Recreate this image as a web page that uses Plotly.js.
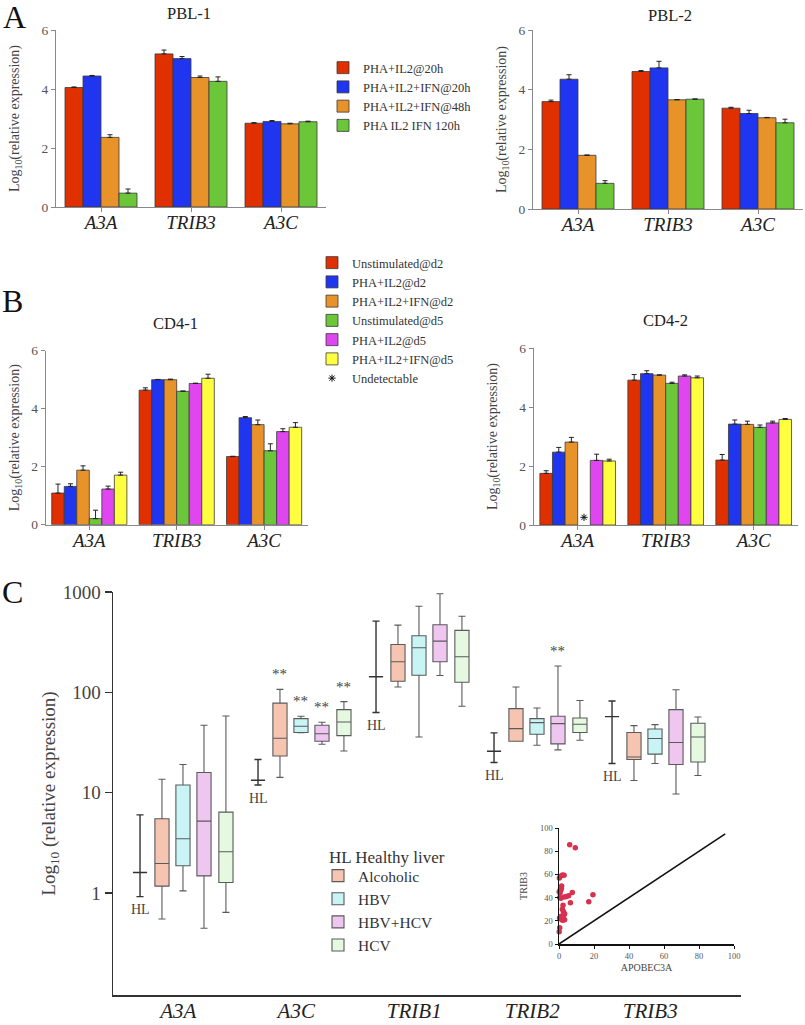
<!DOCTYPE html>
<html>
<head>
<meta charset="utf-8">
<script src="https://cdn.plot.ly/plotly-3.0.1.min.js"></script>
<style>html,body{margin:0;padding:0;background:#fff;}#chart{width:805px;height:1025px;}</style>
</head>
<body>
<div id="chart"></div>
<script>
// ---------- DATA ----------
const genesAB = ['A3A', 'TRIB3', 'A3C'];

const seriesA = ['PHA+IL2@20h', 'PHA+IL2+IFN@20h', 'PHA+IL2+IFN@48h', 'PHA IL2 IFN 120h'];
const pbl1 = [[4.05, 5.19, 2.84], [4.44, 5.03, 2.90], [2.36, 4.39, 2.82], [0.47, 4.26, 2.89]];
const pbl1Err = [[0.02, 0.13, 0.02], [0.02, 0.07, 0.03], [0.09, 0.05, 0.02], [0.14, 0.15, 0.02]];
const pbl2 = [[3.60, 4.61, 3.38], [4.35, 4.73, 3.20], [1.80, 3.66, 3.06], [0.86, 3.68, 2.89]];
const pbl2Err = [[0.05, 0.03, 0.03], [0.15, 0.22, 0.11], [0.01, 0.01, 0.01], [0.09, 0.01, 0.12]];

const seriesB = ['Unstimulated@d2', 'PHA+IL2@d2', 'PHA+IL2+IFN@d2', 'Unstimulated@d5', 'PHA+IL2@d5', 'PHA+IL2+IFN@d5'];
const cd41 = [[1.09, 4.64, 2.35], [1.32, 5.00, 3.69], [1.88, 5.00, 3.45], [0.21, 4.60, 2.55], [1.23, 4.87, 3.21], [1.71, 5.05, 3.36]];
const cd41Err = [[0.31, 0.08, 0.01], [0.09, 0.01, 0.04], [0.15, 0.02, 0.16], [0.29, 0.01, 0.24], [0.10, 0.01, 0.10], [0.10, 0.14, 0.16]];
const cd42 = [[1.75, 4.91, 2.20], [2.47, 5.13, 3.42], [2.81, 5.08, 3.41], [null, 4.80, 3.31], [2.19, 5.05, 3.46], [2.17, 4.99, 3.58]];
const cd42Err = [[0.09, 0.19, 0.19], [0.16, 0.10, 0.14], [0.16, 0.01, 0.11], [null, 0.04, 0.08], [0.21, 0.04, 0.06], [0.06, 0.06, 0.03]];
const undetectableGene = 0;      // A3A
const undetectableSeries = 3;    // Unstimulated@d5
const undetectableY = 0.26;

const genesC = ['A3A', 'A3C', 'TRIB1', 'TRIB2', 'TRIB3'];
const groupsC = ['HL', 'Alcoholic', 'HBV', 'HBV+HCV', 'HCV'];
const hlLow = [0.92, 11.9, 63, 20, 19.5];
const hlMed = [1.6, 13.3, 143, 25.9, 57.3];
const hlHigh = [6.0, 21.4, 512, 39.4, 82];
const alcLow = [0.55, 14.2, 113, 32.5, 13.2];
const alcQ1 = [1.17, 23.2, 129, 32.5, 21.4];
const alcMed = [1.97, 34.8, 202, 43.5, 22.7];
const alcQ3 = [5.5, 78, 300, 68.8, 39.7];
const alcHigh = [13.6, 107, 468, 113, 46.6];
const hbvLow = [1.05, 39.5, 35.9, 29.7, 19.5];
const hbvQ1 = [1.87, 39.7, 148, 38.2, 24.2];
const hbvMed = [3.47, 45.9, 278, 49.9, 34.6];
const hbvQ3 = [11.9, 54.7, 366, 54.7, 43.1];
const hbvHigh = [19.1, 57.7, 722, 69.8, 47.7];
const bcLow = [0.445, 30.4, 147, 26.7, 9.7];
const bcQ1 = [1.48, 32.5, 202, 30.6, 19.1];
const bcMed = [5.2, 38.7, 324, 48.8, 31.6];
const bcQ3 = [15.9, 47, 472, 57.7, 67.3];
const bcHigh = [47, 50.3, 960, 183, 106];
const hcvLow = [0.64, 26, 72.6, 33.3, 14.8];
const hcvQ1 = [1.27, 37, 126, 39.7, 20.2];
const hcvMed = [2.58, 50.6, 226, 48, 35.9];
const hcvQ3 = [6.4, 67.3, 414, 55.5, 49.2];
const hcvHigh = [58, 80.8, 574, 83, 56.8];
// significance marks: [gene index, group index (1..4)]
const significant = [[1, 1], [1, 2], [1, 3], [1, 4], [3, 3]];

const apobec3a = [6.1, 9.3, 0.8, 2.0, 2.9, 0.2, 1.5, 1.3, 1.1, 0.1, 0.6, 7.6, 0.4, 1.1, 3.0, 4.2, 5.5, 19.4, 17.0, 6.5, 2.3, 1.9, 2.5, 3.2, 2.7, 1.1, 0.3, 1.5, 3.2, 1.9, 0.4, 0.1, 2.2, 0.8];
const trib3 = [85.5, 83.0, 58.5, 59.5, 59.2, 57.0, 50.0, 48.0, 46.5, 45.0, 44.0, 44.5, 40.0, 39.5, 40.5, 41.0, 41.5, 42.5, 36.5, 35.5, 33.5, 30.0, 28.0, 26.0, 24.5, 24.0, 22.5, 21.0, 21.0, 23.0, 14.0, 10.5, 20.5, 47.0];
const refLineX = [0, 95];
const refLineY = [0, 95];

// ---------- STYLE ----------
const W = 805, H = 1025;
const FONT = 'Liberation Serif, Times New Roman, serif';
const colA = ['#e03000', '#1f35f0', '#e8922a', '#6cc63a'];
const colB = ['#e03000', '#1f35f0', '#e8922a', '#6cc63a', '#e046f0', '#ffff40'];
const colC = ['rgba(0,0,0,0)', '#f5c5b2', '#c8f4f6', '#eec6f0', '#e5f8e0'];
const offC = [-0.364, -0.178, 0, 0.178, 0.364];
const gwA = 0.8, gwB = 0.86;

function dx(a, b) { return [a / W, b / W]; }
function dy(top, bottom) { return [1 - bottom / H, 1 - top / H]; }

function barTraces(vals, errs, names, colors, xa, ya, gw, legendName, showLeg) {
  const n = vals.length, w = gw / n;
  return vals.map((v, k) => ({
    type: 'bar', x: genesAB.map((g, i) => i), y: v, name: names[k],
    width: w, offset: -gw / 2 + k * w,
    marker: { color: colors[k], line: { color: '#3a3a3a', width: 0.8 } },
    error_y: { type: 'data', symmetric: false, array: errs[k], arrayminus: errs[k].map(() => 0),
      color: '#222', thickness: 1, width: 2.5 },
    xaxis: xa, yaxis: ya, legend: legendName, legendgroup: legendName + k, showlegend: showLeg,
    hoverinfo: 'y+name'
  }));
}

const traces = [];
traces.push(...barTraces(pbl1, pbl1Err, seriesA, colA, 'x', 'y', gwA, 'legend', true));
traces.push(...barTraces(pbl2, pbl2Err, seriesA, colA, 'x2', 'y2', gwA, 'legend', false));
traces.push(...barTraces(cd41, cd41Err, seriesB, colB, 'x3', 'y3', gwB, 'legend2', true));
traces.push(...barTraces(cd42, cd42Err, seriesB, colB, 'x4', 'y4', gwB, 'legend2', false));
{
  const w = gwB / seriesB.length;
  traces.push({
    type: 'scatter', mode: 'markers', name: 'Undetectable',
    x: [undetectableGene - gwB / 2 + (undetectableSeries + 0.5) * w], y: [undetectableY],
    marker: { symbol: 'asterisk-open', size: 6, color: '#111', line: { color: '#111', width: 1 } },
    xaxis: 'x4', yaxis: 'y4', legend: 'legend2', cliponaxis: false
  });
}

// Panel C boxes
const boxStats = [
  [hlLow, hlMed, hlMed, hlMed, hlHigh],
  [alcLow, alcQ1, alcMed, alcQ3, alcHigh],
  [hbvLow, hbvQ1, hbvMed, hbvQ3, hbvHigh],
  [bcLow, bcQ1, bcMed, bcQ3, bcHigh],
  [hcvLow, hcvQ1, hcvMed, hcvQ3, hcvHigh]
];
boxStats.forEach((s, k) => {
  traces.push({
    type: 'box', name: groupsC[k],
    x: genesC.map((g, i) => i + offC[k]),
    lowerfence: s[0], q1: s[1], median: s[2], q3: s[3], upperfence: s[4],
    boxpoints: false, width: 0.12, whiskerwidth: 0.5,
    fillcolor: colC[k], line: { color: k === 0 ? '#333' : '#5a5a5a', width: k === 0 ? 1.4 : 1.1 },
    xaxis: 'x5', yaxis: 'y5', legend: 'legend3', showlegend: k > 0, hoverinfo: 'all'
  });
});

// Inset scatter
traces.push({
  type: 'scatter', mode: 'lines', x: refLineX, y: refLineY, line: { color: '#111', width: 1.6 },
  xaxis: 'x6', yaxis: 'y6', showlegend: false, hoverinfo: 'skip'
});
traces.push({
  type: 'scatter', mode: 'markers', x: apobec3a, y: trib3, name: 'samples',
  marker: { color: '#d9304f', size: 5.5 }, cliponaxis: false,
  xaxis: 'x6', yaxis: 'y6', showlegend: false
});

// ---------- LAYOUT ----------
const ytitle = 'Log<sub>10</sub>(relative expression)';
function barX(dom, anchor) {
  return {
    domain: dom, anchor: anchor, range: [-0.5, 2.5], tickvals: [0, 1, 2], ticktext: genesAB,
    showline: true, linecolor: '#888', linewidth: 1, ticks: 'outside', ticklen: 4, tickcolor: '#888',
    ticklabelstandoff: -6,
    tickfont: { family: FONT, size: 19, color: '#222', style: 'italic' }, showgrid: false, zeroline: false, fixedrange: true
  };
}
function barY(dom, anchor, standoff) {
  return {
    domain: dom, anchor: anchor, range: [0, 6], tickvals: [0, 2, 4, 6], showline: true, linecolor: '#888', linewidth: 1,
    ticks: 'outside', ticklen: 4, tickcolor: '#888', tickfont: { family: FONT, size: 13.5, color: '#555' },
    showgrid: false, zeroline: false, fixedrange: true,
    title: { text: ytitle, font: { family: FONT, size: 14, color: '#444' }, standoff: standoff }
  };
}

const annotations = [
  { text: 'A', x: 14 / W, y: 1 - 17 / H },
  { text: 'B', x: 12 / W, y: 1 - 301 / H },
  { text: 'C', x: 12 / W, y: 1 - 592 / H }
].map(a => ({ xref: 'paper', yref: 'paper', x: a.x, y: a.y, text: a.text, showarrow: false,
  xanchor: 'center', yanchor: 'middle', font: { family: FONT, size: 32, color: '#111' } }));

[['PBL-1', 189, 13], ['PBL-2', 670, 15], ['CD4-1', 175, 323], ['CD4-2', 665, 320]].forEach(t => {
  annotations.push({ xref: 'paper', yref: 'paper', x: t[1] / W, y: 1 - t[2] / H, text: t[0], showarrow: false,
    xanchor: 'center', yanchor: 'middle', font: { family: FONT, size: 16.5, color: '#222' } });
});

// HL labels
genesC.forEach((g, i) => {
  annotations.push({ xref: 'x5', yref: 'y5', x: i + offC[0], y: Math.log10(hlLow[i]) - 0.13, text: 'HL',
    showarrow: false, xanchor: 'center', yanchor: 'middle', font: { family: FONT, size: 14, color: '#444' } });
});
// significance stars
significant.forEach(([gi, k]) => {
  annotations.push({ xref: 'x5', yref: 'y5', x: gi + offC[k], y: Math.log10(boxStats[k][4][gi]) + 0.15, text: '**',
    showarrow: false, xanchor: 'center', yanchor: 'middle', font: { family: FONT, size: 15, color: '#444' } });
});
annotations.push({ xref: 'paper', yref: 'paper', x: 327 / W, y: 1 - 857 / H, text: 'HL Healthy liver',
  showarrow: false, xanchor: 'left', yanchor: 'middle', font: { family: FONT, size: 17, color: '#333' } });

const layout = {
  width: W, height: H, margin: { l: 0, r: 0, t: 0, b: 0 }, paper_bgcolor: '#fff', plot_bgcolor: 'rgba(0,0,0,0)',
  barmode: 'overlay', boxmode: 'overlay', showlegend: true, font: { family: FONT },
  xaxis: barX(dx(56, 326), 'y'), yaxis: barY(dy(30, 207), 'x', 18),
  xaxis2: barX(dx(533, 803), 'y2'), yaxis2: barY(dy(30, 209), 'x2', 8),
  xaxis3: barX(dx(45.6, 307.8), 'y3'), yaxis3: barY(dy(350.7, 524.7), 'x3', 8),
  xaxis4: barX(dx(533.7, 797.7), 'y4'), yaxis4: barY(dy(348, 525), 'x4', 18),
  xaxis5: {
    domain: dx(113, 741), anchor: 'y5', range: [-0.593, 4.729], tickvals: genesC.map((g, i) => i - 0.04), ticktext: genesC,
    showline: true, linecolor: '#333', linewidth: 1.5, ticks: '', showgrid: false, zeroline: false, fixedrange: true,
    tickfont: { family: FONT, size: 21, color: '#222', style: 'italic' }, ticklabelstandoff: -4
  },
  yaxis5: {
    domain: dy(592, 995), anchor: 'x5', type: 'log', range: [-1.017, 3], tickvals: [1, 10, 100, 1000], ticktext: ['1', '10', '100', '1000'],
    showline: true, linecolor: '#333', linewidth: 1.5, ticks: 'outside', ticklen: 7, tickcolor: '#333', tickwidth: 1.3,
    showgrid: false, zeroline: false, fixedrange: true, tickfont: { family: FONT, size: 19, color: '#444' },
    title: { text: 'Log<sub>10</sub> (relative expression)', font: { family: FONT, size: 19, color: '#444' }, standoff: 2 }
  },
  xaxis6: {
    domain: dx(559, 734), range: [0, 100], tickvals: [0, 20, 40, 60, 80, 100], anchor: 'y6',
    showline: true, linecolor: '#111', linewidth: 1.5, ticks: 'outside', ticklen: 3, tickcolor: '#111',
    showgrid: false, zeroline: false, fixedrange: true, tickfont: { family: FONT, size: 8.5, color: '#555' },
    title: { text: 'APOBEC3A', font: { family: FONT, size: 10, color: '#444' }, standoff: 4 }
  },
  yaxis6: {
    domain: dy(828, 944), range: [0, 100], tickvals: [0, 20, 40, 60, 80, 100], anchor: 'x6',
    showline: true, linecolor: '#111', linewidth: 1.5, ticks: 'outside', ticklen: 3, tickcolor: '#111',
    showgrid: false, zeroline: false, fixedrange: true, tickfont: { family: FONT, size: 8.5, color: '#555' },
    title: { text: 'TRIB3', font: { family: FONT, size: 10, color: '#444' }, standoff: 10 }
  },
  legend: { x: 323 / W, y: 1 - 53 / H, xanchor: 'left', yanchor: 'top', bgcolor: 'rgba(0,0,0,0)',
    font: { family: FONT, size: 12.5, color: '#333' }, tracegroupgap: 0, traceorder: 'normal' },
  legend2: { x: 312 / W, y: 1 - 248 / H, xanchor: 'left', yanchor: 'top', bgcolor: 'rgba(0,0,0,0)',
    font: { family: FONT, size: 12.5, color: '#333' }, tracegroupgap: 0, traceorder: 'normal' },
  legend3: { x: 318 / W, y: 1 - 859 / H, xanchor: 'left', yanchor: 'top', bgcolor: 'rgba(0,0,0,0)',
    font: { family: FONT, size: 15.5, color: '#333' }, tracegroupgap: 0, traceorder: 'normal' },
  annotations: annotations
};

Plotly.newPlot('chart', traces, layout, { displayModeBar: false, staticPlot: true });
</script>
</body>
</html>
